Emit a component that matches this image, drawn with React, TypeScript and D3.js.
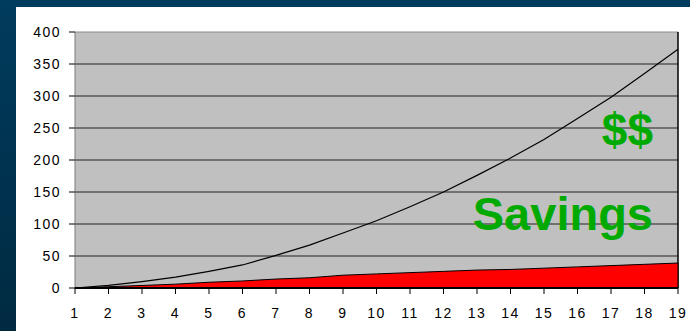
import * as d3 from 'd3';

const years = d3.range(1, 20).map(String);
const totalValues = [0, 4, 10, 17, 26, 36, 51, 67, 86, 105, 127, 150, 176, 203, 232, 265, 298, 335, 373];
const savingsValues = [0, 2, 4, 6, 9, 11, 14, 16, 20, 22, 24, 26, 28, 29, 31, 33, 35, 37, 39];
const yTicks = [0, 50, 100, 150, 200, 250, 300, 350, 400];

const W = 690;
const H = 331;
const left = 75;
const right = 678;
const top = 32;
const bottom = 288;

export default function App() {
  const x = d3.scalePoint<string>().domain(years).range([left, right]);
  const y = d3.scaleLinear().domain([0, 400]).range([bottom, top]);

  const line = d3.line<number>()
    .x((_, i) => x(years[i])!)
    .y(d => y(d));

  const area = d3.area<number>()
    .x((_, i) => x(years[i])!)
    .y0(y(0))
    .y1(d => y(d));

  const font = 'Arial, "Liberation Sans", sans-serif';

  return (
    <svg width={W} height={H} style={{ position: 'absolute', left: 0, top: 0, display: 'block' }}>
      <defs>
        <linearGradient id="bg" x1="0" y1="0" x2="0" y2="1">
          <stop offset="0" stopColor="#003c5e" />
          <stop offset="1" stopColor="#002a41" />
        </linearGradient>
      </defs>
      <rect width={W} height={H} fill="url(#bg)" />
      <rect x={16} y={7} width={W - 16} height={H - 7} fill="#fff" />

      {/* plot area */}
      <rect x={left} y={top} width={right - left} height={bottom - top} fill="#c0c0c0" />
      <line x1={left} x2={right} y1={top} y2={top} stroke="#8a8a8a" />
      {yTicks.filter(t => t > 0 && t < 400).map(t => (
        <line key={t} x1={left} x2={right} y1={y(t)} y2={y(t)} stroke="#222" strokeWidth={1} />
      ))}
      <line x1={left} x2={left} y1={top} y2={bottom} stroke="#7a7a7a" />
      <line x1={right} x2={right} y1={top} y2={bottom} stroke="#000" strokeWidth={1.5} />

      {/* series */}
      <path d={area(savingsValues)!} fill="#ff0000" stroke="#000" strokeWidth={1} />
      <path d={line(totalValues)!} fill="none" stroke="#000" strokeWidth={1.2} />

      {/* axes */}
      <line x1={left} x2={right} y1={bottom} y2={bottom} stroke="#000" strokeWidth={2} />
      {yTicks.map(t => (
        <g key={t}>
          <line x1={left - 6} x2={left} y1={y(t)} y2={y(t)} stroke="#000" />
          <text x={61} y={y(t)} dy="0.36em" textAnchor="end" fontSize={14} letterSpacing={1.5} fontFamily={font} fill="#000">{t}</text>
        </g>
      ))}
      {years.map(v => (
        <g key={v}>
          <line x1={x(v)} x2={x(v)} y1={bottom} y2={bottom + 6} stroke="#000" />
          <text x={x(v)} y={312.5} dy="0.36em" textAnchor="middle" fontSize={14} letterSpacing={1.5} fontFamily={font} fill="#000">{v}</text>
        </g>
      ))}

      <text x={653} y={146} textAnchor="end" fontSize={46} fontWeight="bold" fontFamily={font} fill="#00aa00">$$</text>
      <text x={653} y={230} textAnchor="end" fontSize={47} fontWeight="bold" fontFamily={font} fill="#00aa00">Savings</text>
    </svg>
  );
}
